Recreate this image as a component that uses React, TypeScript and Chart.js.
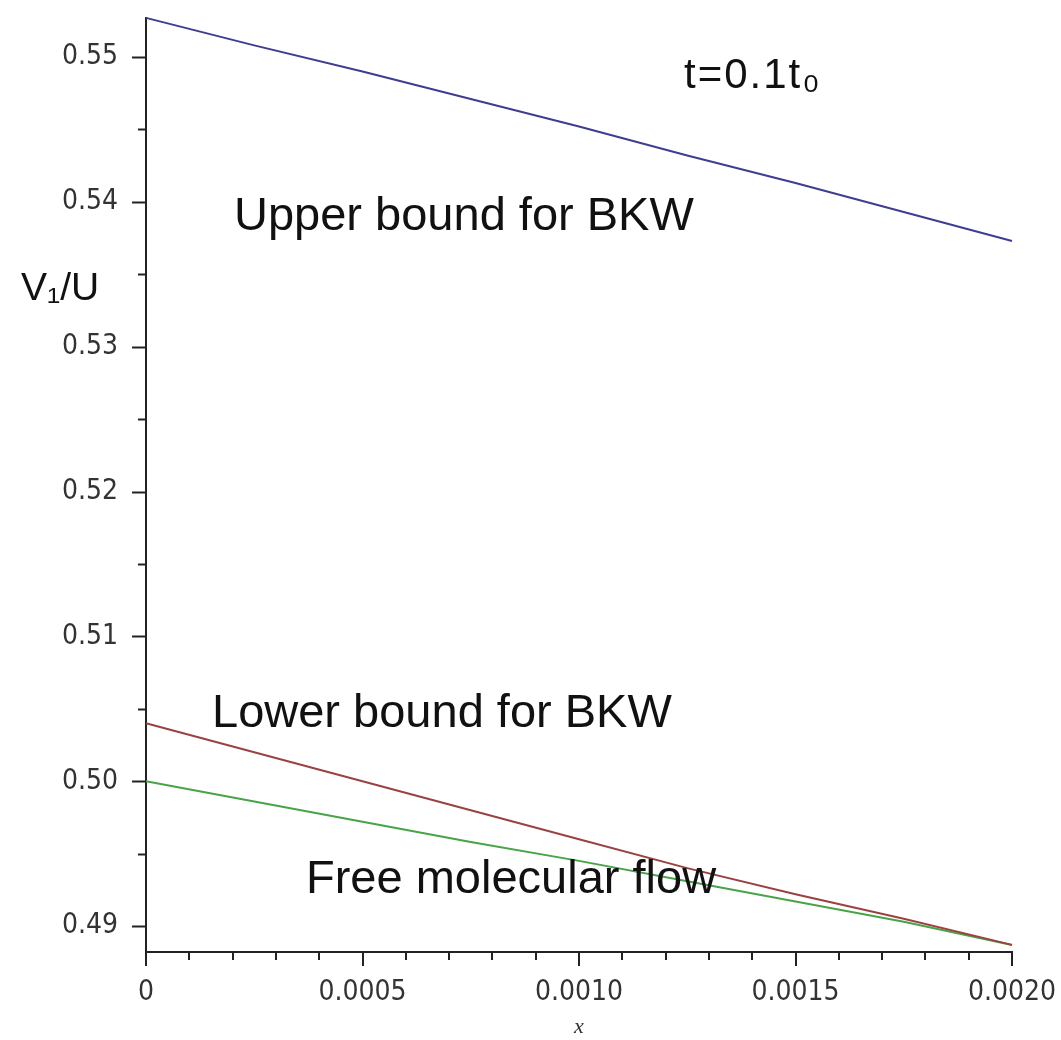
import React, { useEffect, useRef } from "react";
import { Chart, registerables } from "chart.js";

Chart.register(...registerables);

// ---- data ----
const xValues = [0, 0.00025, 0.0005, 0.00075, 0.001, 0.00125, 0.0015, 0.00175, 0.002];
const upperBKW = [0.5527, 0.5508, 0.549, 0.5471, 0.5452, 0.5432, 0.5413, 0.5393, 0.5373];
const lowerBKW = [0.504, 0.502, 0.5, 0.498, 0.496, 0.494, 0.4922, 0.4905, 0.4887];
const freeMolecular = [0.5, 0.4986, 0.4972, 0.4958, 0.4945, 0.4931, 0.4917, 0.4903, 0.4887];

const yTicks = [0.49, 0.495, 0.5, 0.505, 0.51, 0.515, 0.52, 0.525, 0.53, 0.535, 0.54, 0.545, 0.55];
const yMajorLabels: Record<string, string> = {
  "0.49": "0.49", "0.5": "0.50", "0.51": "0.51", "0.52": "0.52",
  "0.53": "0.53", "0.54": "0.54", "0.55": "0.55",
};
const xTicks = [
  0, 0.0001, 0.0002, 0.0003, 0.0004, 0.0005, 0.0006, 0.0007, 0.0008, 0.0009, 0.001,
  0.0011, 0.0012, 0.0013, 0.0014, 0.0015, 0.0016, 0.0017, 0.0018, 0.0019, 0.002,
];
const xMajorLabels: Record<string, string> = {
  "0": "0", "0.0005": "0.0005", "0.001": "0.0010", "0.0015": "0.0015", "0.002": "0.0020",
};

const Y_MIN = 0.48821;
const Y_MAX = 0.55269;

const toPoints = (ys: number[]) => xValues.map((x, i) => ({ x, y: ys[i] }));

const keyOf = (v: number) => String(Math.round(v * 100000) / 100000);

const zeroPad = (s: any) => {
  s.paddingTop = 0;
  s.paddingBottom = 0;
  s.paddingLeft = 0;
  s.paddingRight = 0;
};

const tickPlugin = {
  id: "customTicks",
  afterDraw(chart: any) {
    const ctx = chart.ctx;
    const xs = chart.scales.x;
    const ys = chart.scales.y;
    ctx.save();
    ctx.strokeStyle = "#222";
    ctx.lineWidth = 2;
    const left = chart.chartArea.left;
    const bottom = chart.chartArea.bottom;
    yTicks.forEach((v) => {
      const p = Math.round(ys.getPixelForValue(v)) + 0.5;
      const len = yMajorLabels[keyOf(v)] ? 14 : 8;
      ctx.beginPath();
      ctx.moveTo(left - len, p);
      ctx.lineTo(left, p);
      ctx.stroke();
    });
    xTicks.forEach((v) => {
      const p = Math.round(xs.getPixelForValue(v));
      const len = xMajorLabels[keyOf(v)] !== undefined ? 14 : 8;
      ctx.beginPath();
      ctx.moveTo(p, bottom);
      ctx.lineTo(p, bottom + len);
      ctx.stroke();
    });

    // annotations
    ctx.fillStyle = "#111";
    ctx.textBaseline = "alphabetic";
    ctx.textAlign = "left";
    ctx.font = "47px 'Liberation Sans', Arial, sans-serif";
    ctx.fillText("Upper bound for BKW", 234, 230);
    ctx.fillText("Lower bound for BKW", 212, 727);
    ctx.fillText("Free molecular flow", 306, 893);
    ctx.font = "42px 'Liberation Sans', Arial, sans-serif";
    try {
      (ctx as any).letterSpacing = "2px";
    } catch (e) {}
    ctx.fillText("t=0.1t₀", 684, 88);
    try {
      (ctx as any).letterSpacing = "0px";
    } catch (e) {}
    ctx.font = "39px 'Liberation Sans', Arial, sans-serif";
    ctx.fillText("V₁/U", 21, 300);
    ctx.restore();
  },
};

export default function App() {
  const ref = useRef<HTMLCanvasElement | null>(null);

  useEffect(() => {
    if (!ref.current) return;
    const tickFont = { family: "'DejaVu Sans Condensed', 'DejaVu Sans', sans-serif", size: 28 };
    const chart = new Chart(ref.current, {
      type: "scatter",
      data: {
        datasets: [
          {
            label: "Upper bound for BKW",
            data: toPoints(upperBKW),
            showLine: true,
            borderColor: "#3d3d92",
            borderWidth: 2,
            pointRadius: 0,
            clip: false,
          },
          {
            label: "Lower bound for BKW",
            data: toPoints(lowerBKW),
            showLine: true,
            borderColor: "#9a4242",
            borderWidth: 2,
            pointRadius: 0,
            clip: false,
          },
          {
            label: "Free molecular flow",
            data: toPoints(freeMolecular),
            showLine: true,
            borderColor: "#47a447",
            borderWidth: 2,
            pointRadius: 0,
            clip: false,
          },
        ],
      },
      options: {
        animation: false,
        responsive: true,
        maintainAspectRatio: false,
        layout: { padding: { left: 0, top: 18, right: 49, bottom: 0 } },
        plugins: { legend: { display: false }, tooltip: { enabled: false } },
        scales: {
          x: {
            type: "linear",
            min: 0,
            max: 0.002,
            afterFit: (s: any) => {
              s.height = 88;
              zeroPad(s);
            },
            afterBuildTicks: (s: any) => {
              s.ticks = xTicks.map((value) => ({ value }));
            },
            grid: { display: false, drawTicks: false },
            border: { display: true, color: "#222", width: 2 },
            ticks: {
              autoSkip: false,
              maxRotation: 0,
              padding: 24,
              color: "#333",
              font: tickFont,
              callback: (v: any) => xMajorLabels[keyOf(Number(v))] ?? "",
            },
            title: {
              display: true,
              text: "x",
              color: "#333",
              font: { family: "'Liberation Serif', serif", size: 22, style: "italic" },
              padding: { top: 0, bottom: 0 },
            },
          },
          y: {
            type: "linear",
            min: Y_MIN,
            max: Y_MAX,
            afterFit: (s: any) => {
              s.width = 146;
              zeroPad(s);
            },
            afterBuildTicks: (s: any) => {
              s.ticks = yTicks.map((value) => ({ value }));
            },
            grid: { display: false, drawTicks: false },
            border: { display: true, color: "#222", width: 2 },
            ticks: {
              autoSkip: false,
              padding: 28,
              color: "#333",
              font: tickFont,
              callback: (v: any) => yMajorLabels[keyOf(Number(v))] ?? "",
            },
          },
        },
      },
      plugins: [tickPlugin],
    });
    return () => chart.destroy();
  }, []);

  return (
    <div style={{ position: "absolute", left: 0, top: 0, width: 1061, height: 1040, background: "#fff" }}>
      <canvas ref={ref} />
    </div>
  );
}
